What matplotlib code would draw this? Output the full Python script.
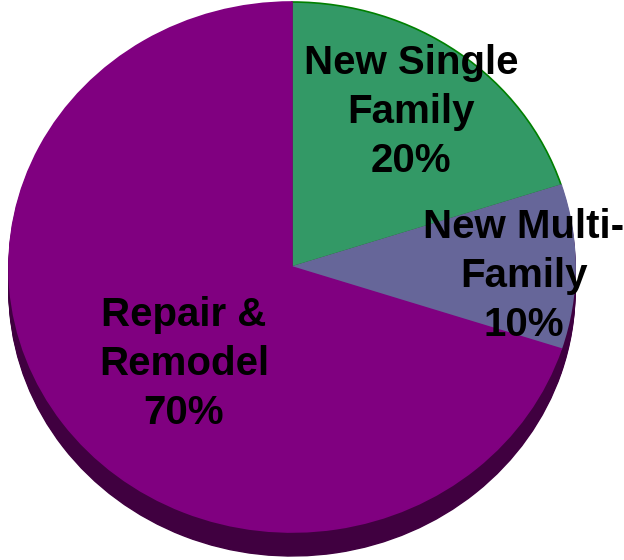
import numpy as np
import matplotlib
matplotlib.use("Agg")
import matplotlib.pyplot as plt

# Data
labels = ["New Single\nFamily\n20%", "New Multi-\nFamily\n10%", "Repair &\nRemodel\n70%"]
shares = [20, 10, 70]
top_colors = ["#339966", "#666699", "#800080"]
side_colors = ["#1a4d33", "#333366", "#400040"]
edge_colors = ["#008000", "#666699", "#800080"]

# pixel geometry of the tilted pie
W, H = 624, 560
cx, cy = 292, 267          # centre in pixels (from top-left)
rx, ry = 283, 265          # horizontal / vertical radius in pixels
depth = 24                 # thickness of the pie in pixels

fig = plt.figure(figsize=(W / 100, H / 100), dpi=100)
ax = fig.add_axes([0, 0, 1, 1])

# depth: stack darker pies shifted downwards
for off in np.linspace(depth / ry, 0, 16, endpoint=False):
    ax.pie(shares, colors=side_colors, startangle=90, counterclock=False,
           center=(0, -off), radius=1,
           wedgeprops=dict(linewidth=1.0, edgecolor=side_colors[2]))

# top surface
wedges, _ = ax.pie(shares, colors=top_colors, startangle=90, counterclock=False,
                   center=(0, 0), radius=1,
                   wedgeprops=dict(linewidth=1.2))
for w, ec in zip(wedges, edge_colors):
    w.set_edgecolor(ec)

ax.set_aspect("auto")
ax.set_xlim(-cx / rx, (W - cx) / rx)
ax.set_ylim((cy - H) / ry, cy / ry)
ax.axis("off")

# labels (pixel positions converted to data units)
label_pos = [(411, 112), (524, 276), (184, 364)]
for text, (px, py) in zip(labels, label_pos):
    ax.text((px - cx) / rx, (cy - py) / ry, text, ha="center", va="center",
            fontsize=29, fontweight="bold", family="Liberation Sans",
            linespacing=1.38, color="black")

fig.savefig("out.png", dpi=100)
